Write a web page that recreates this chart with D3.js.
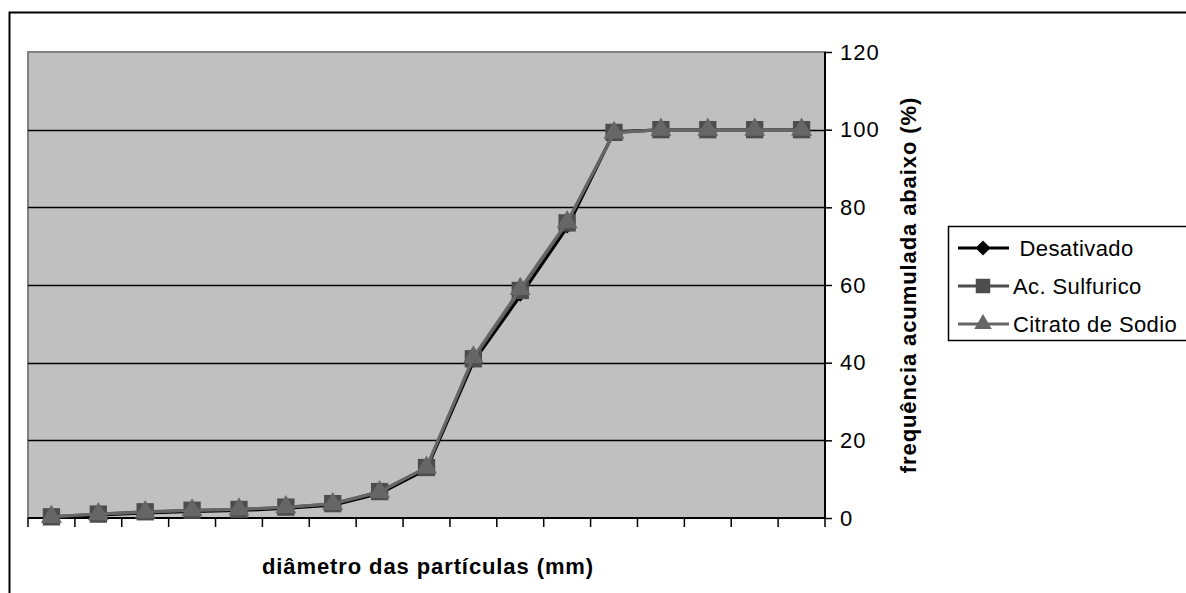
<!DOCTYPE html>
<html>
<head>
<meta charset="utf-8">
<script src="https://cdn.jsdelivr.net/npm/d3@7/dist/d3.min.js"></script>
<style>
  body { margin: 0; background: #fff; }
  svg text { font-family: Arial, "Liberation Sans", sans-serif; fill: #000; }
</style>
</head>
<body>
<div id="chart"></div>
<script>
// 17 sieve classes, no labels shown on the x axis
var categories = d3.range(1, 18).map(function(i) { return "c" + i; });

var desativado   = [0.2, 0.8, 1.3, 1.7, 1.9, 2.5, 3.3, 6.3, 12.5, 40.2, 57.2, 74.8, 99.4, 100, 100, 100, 100];
var acSulfurico  = [0.3, 1.0, 1.6, 2.0, 2.2, 2.8, 3.7, 6.8, 13.0, 41.0, 58.6, 76.0, 99.3, 100, 100, 100, 100];
var citratoSodio = [0.3, 1.0, 1.5, 2.0, 2.2, 2.8, 3.6, 6.7, 13.0, 41.4, 59.0, 76.2, 99.2, 100, 100, 100, 100];

var yTicks = [0, 20, 40, 60, 80, 100, 120];

var series = [
    { name: " Desativado", values: desativado, color: "#000000", marker: "diamond" },
    { name: "Ac. Sulfurico", values: acSulfurico, color: "#4d4d4d", marker: "square" },
    { name: "Citrato de Sodio", values: citratoSodio, color: "#666666", marker: "triangle" }
];

var W = 1186, H = 593;
var margin = { top: 52, left: 28, right: W - 825, bottom: H - 518 };
var width = W - margin.left - margin.right,
    height = H - margin.top - margin.bottom;

var svg = d3.select("#chart").append("svg")
    .attr("width", W)
    .attr("height", H);

// chart area border
svg.append("rect")
    .attr("x", 9.5).attr("y", 12.5)
    .attr("width", 1300).attr("height", 700)
    .attr("fill", "#fff")
    .attr("stroke", "#000")
    .attr("stroke-width", 2);

var g = svg.append("g")
    .attr("transform", "translate(" + margin.left + "," + margin.top + ")");

var x = d3.scaleBand().domain(categories).range([0, width]);
var y = d3.scaleLinear().domain([0, 120]).range([height, 0]);

// plot area
g.append("rect")
    .attr("width", width).attr("height", height)
    .attr("fill", "#c0c0c0")
    .attr("stroke", "#808080")
    .attr("stroke-width", 2);

// gridlines
g.selectAll(".grid")
    .data(yTicks.filter(function(d) { return d > 0 && d < 120; }))
    .enter().append("line")
    .attr("x1", 0).attr("x2", width)
    .attr("y1", function(d) { return Math.round(y(d)) + 0.5; })
    .attr("y2", function(d) { return Math.round(y(d)) + 0.5; })
    .attr("stroke", "#000")
    .attr("stroke-width", 1.5);

// y axis on the right
var yAxis = d3.axisRight(y).tickValues(yTicks).tickSize(7).tickPadding(8);
var yg = g.append("g")
    .attr("transform", "translate(" + width + ",0)")
    .call(yAxis);
yg.select(".domain").attr("stroke", "#000").attr("stroke-width", 2).attr("d", "M0," + height + "V0");
yg.selectAll(".tick line").attr("stroke", "#000").attr("stroke-width", 1.5);
yg.selectAll(".tick text")
    .style("font-size", "22px")
    .style("letter-spacing", "1px")
    .attr("fill", "#000");

// x axis, ticks only between categories
var xTickPos = d3.range(0, categories.length + 1).map(function(i) { return i * x.bandwidth(); });
var xg = g.append("g").attr("transform", "translate(0," + height + ")");
xg.append("line")
    .attr("x1", 0).attr("x2", width)
    .attr("stroke", "#000").attr("stroke-width", 2);
xg.selectAll(".xt")
    .data(xTickPos)
    .enter().append("line")
    .attr("x1", function(d) { return d; })
    .attr("x2", function(d) { return d; })
    .attr("y1", 0).attr("y2", 9)
    .attr("stroke", "#000").attr("stroke-width", 1.5);

// axis titles
svg.append("text")
    .attr("x", 428).attr("y", 574)
    .attr("text-anchor", "middle")
    .style("font-size", "22px").style("font-weight", "bold")
    .style("letter-spacing", "0.9px")
    .text("diâmetro das partículas (mm)");

svg.append("text")
    .attr("transform", "translate(916," + (margin.top + height / 2) + ") rotate(-90)")
    .attr("text-anchor", "middle")
    .style("font-size", "22px").style("font-weight", "bold")
    .style("letter-spacing", "0.9px")
    .text("frequência acumulada abaixo (%)");

var line = d3.line()
    .x(function(d, i) { return x(categories[i]) + x.bandwidth() / 2; })
    .y(function(d) { return y(d); });

var symbolTypes = {
    diamond: { type: d3.symbolDiamond2, size: 90 },
    square: { type: d3.symbolSquare, size: 300 },
    triangle: { type: d3.symbolTriangle, size: 190 }
};

function markerPath(m, k) {
    return d3.symbol().type(symbolTypes[m].type).size(symbolTypes[m].size * (k || 1))();
}

series.forEach(function(s) {
    var sg = g.append("g");
    sg.append("path")
        .datum(s.values)
        .attr("fill", "none")
        .attr("stroke", s.color)
        .attr("stroke-width", 3)
        .attr("d", line);
    sg.selectAll(".pt")
        .data(s.values)
        .enter().append("path")
        .attr("transform", function(d, i) {
            return "translate(" + (x(categories[i]) + x.bandwidth() / 2) + "," + y(d) + ")";
        })
        .attr("d", markerPath(s.marker))
        .attr("fill", s.color);
});

// legend
var lg = svg.append("g").attr("transform", "translate(948,226)");
lg.append("rect")
    .attr("x", 0.5).attr("y", 0.5)
    .attr("width", 300).attr("height", 114)
    .attr("fill", "#fff").attr("stroke", "#000").attr("stroke-width", 1.5);

var items = lg.selectAll(".item")
    .data(series)
    .enter().append("g")
    .attr("transform", function(d, i) { return "translate(0," + (22 + i * 38) + ")"; });
items.append("line")
    .attr("x1", 10).attr("x2", 61)
    .attr("stroke", function(d) { return d.color; })
    .attr("stroke-width", 3);
items.append("path")
    .attr("transform", "translate(35,0)")
    .attr("d", function(d) {
        return markerPath(d.marker, d.marker === "diamond" ? 1.6 : 0.7);
    })
    .attr("fill", function(d) { return d.color; });
items.append("text")
    .attr("x", 65).attr("y", 0).attr("dy", "0.35em")
    .style("font-size", "22px")
    .style("letter-spacing", "0.4px")
    .style("white-space", "pre")
    .attr("xml:space", "preserve")
    .text(function(d) { return d.name; });
</script>
</body>
</html>
